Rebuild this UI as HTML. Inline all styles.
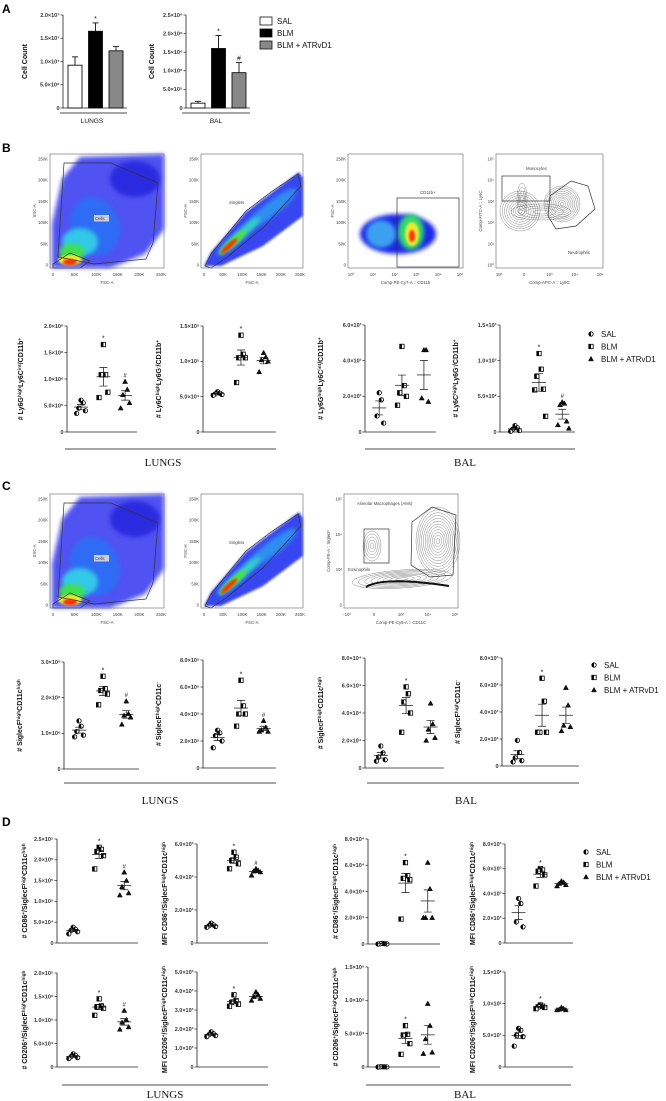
<!DOCTYPE html>
<html><head><meta charset="utf-8">
<style>
html,body{margin:0;padding:0;background:#fff;}
svg{display:block;font-family:"Liberation Sans",sans-serif;}
.tk{font-size:5.5px;font-weight:bold;fill:#333;}
.ttl{font-size:7px;font-weight:bold;fill:#111;}
.grp{font-family:"Liberation Serif",serif;font-size:11px;fill:#111;}
.pl{font-size:12px;font-weight:bold;fill:#000;}
.fl{font-size:4.3px;fill:#444;}
.lg{font-size:8px;fill:#111;}
</style></head>
<body>
<svg id="fig" width="666" height="1101" viewBox="0 0 666 1101">
<defs>
<filter id="blur2" x="-20%" y="-20%" width="140%" height="140%"><feGaussianBlur stdDeviation="2"/></filter>
<filter id="blur1" x="-20%" y="-20%" width="140%" height="140%"><feGaussianBlur stdDeviation="1"/></filter>
</defs>
<text class="pl" x="2" y="13">A</text>
<text class="pl" x="2" y="152">B</text>
<text class="pl" x="2" y="490">C</text>
<text class="pl" x="2" y="826">D</text>
</svg>
<script>
// ---------- DATA ----------
const groups = ["SAL","BLM","BLM + ATRvD1"];
// Panel A bar charts
const aLungMean = [0.92e7, 1.65e7, 1.23e7];
const aLungErr  = [0.18e7, 0.18e7, 0.09e7];
const aLungTicks = [0, 5e6, 1e7, 1.5e7, 2e7];
const aLungMarks = ["", "*", ""];
const aBalMean = [0.13e6, 1.6e6, 0.95e6];
const aBalErr  = [0.05e6, 0.35e6, 0.27e6];
const aBalTicks = [0, 5e5, 1e6, 1.5e6, 2e6, 2.5e6];
const aBalMarks = ["", "*", "#"];
// Panel B scatter
const b1Sal=[6.0e5,5.5e5,4.5e5,4.0e5,3.5e5], b1Blm=[1.65e6,1.08e6,1.08e6,0.75e6,0.65e6], b1Atr=[9.5e5,8.0e5,7.0e5,5.5e5,4.5e5];
const b1Ticks=[0,5e5,1e6,1.5e6,2e6]; const b1Marks=["","*","#"];
const b2Sal=[5.7e4,5.5e4,5.4e4,5.3e4,5.2e4], b2Blm=[1.37e5,1.1e5,1.05e5,1.05e5,0.7e5], b2Atr=[1.12e5,1.06e5,1.02e5,1.0e5,0.85e5];
const b2Ticks=[0,5e4,1e5,1.5e5]; const b2Marks=["","*",""];
const b3Sal=[2.2e3,1.8e3,0.9e3,0.5e3], b3Blm=[4.8e3,2.6e3,2.2e3,2.0e3,1.5e3], b3Atr=[4.6e3,4.6e3,1.9e3,1.7e3];
const b3Ticks=[0,2e3,4e3,6e3]; const b3Marks=["","",""];
const b4Sal=[90,60,40,20,10], b4Blm=[1100,880,780,600,590,220], b4Atr=[420,400,380,150,100,50];
const b4Ticks=[0,5e2,1e3,1.5e3]; const b4Marks=["","*","#"];
// Panel C scatter
const c1Sal=[1.35e6,1.2e6,1.05e6,0.95e6,0.9e6], c1Blm=[2.6e6,2.25e6,2.2e6,2.1e6,1.8e6], c1Atr=[1.9e6,1.55e6,1.5e6,1.45e6,1.25e6];
const c1Ticks=[0,1e6,2e6,3e6]; const c1Marks=["","*","#"];
const c2Sal=[2.8e5,2.6e5,2.4e5,2.0e5,1.5e5], c2Blm=[6.5e5,4.6e5,4.0e5,4.0e5,3.1e5], c2Atr=[3.5e5,3.0e5,2.8e5,2.7e5,2.7e5];
const c2Ticks=[0,2e5,4e5,6e5,8e5]; const c2Marks=["","*","#"];
const c3Sal=[1.6e4,1.1e4,0.8e4,0.6e4,0.5e4], c3Blm=[5.9e4,5.4e4,4.8e4,4.0e4,2.6e4], c3Atr=[4.7e4,3.2e4,2.8e4,2.2e4,2.0e4];
const c3Ticks=[0,2e4,4e4,6e4,8e4]; const c3Marks=["","*",""];
const c4Sal=[1.9e3,1.0e3,0.6e3,0.4e3,0.3e3], c4Blm=[6.5e3,4.8e3,2.5e3,2.5e3,2.5e3], c4Atr=[5.8e3,4.5e3,3.0e3,2.9e3,2.6e3];
const c4Ticks=[0,2e3,4e3,6e3,8e3]; const c4Marks=["","*",""];
// Panel D scatter
const d1Sal=[3.8e4,3.3e4,3.0e4,2.7e4,2.2e4], d1Blm=[2.3e5,2.25e5,2.2e5,2.1e5,1.78e5], d1Atr=[1.7e5,1.5e5,1.35e5,1.2e5,1.15e5];
const d1Ticks=[0,5e4,1e5,1.5e5,2e5,2.5e5]; const d1Marks=["","*","#"];
const d2Sal=[1.2e3,1.1e3,1.05e3,1.0e3,0.95e3], d2Blm=[5.5e3,5.2e3,5.0e3,4.8e3,4.5e3], d2Atr=[4.5e3,4.4e3,4.35e3,4.3e3,4.1e3];
const d2Ticks=[0,2e3,4e3,6e3]; const d2Marks=["","*","#"];
const d3Sal=[500,300,200,100,0], d3Blm=[6.2e4,5.2e4,5.0e4,4.9e4,1.9e4], d3Atr=[6.2e4,4.2e4,2.0e4,2.0e4,2.0e4];
const d3Ticks=[0,2e4,4e4,6e4,8e4]; const d3Marks=["","*",""];
const d4Sal=[3.6e3,3.2e3,1.7e3,1.3e3], d4Blm=[6.0e3,5.9e3,5.8e3,5.5e3,4.6e3], d4Atr=[5.0e3,4.9e3,4.8e3,4.7e3,4.6e3];
const d4Ticks=[0,2e3,4e3,6e3,8e3]; const d4Marks=["","*",""];
const d5Sal=[2.8e4,2.5e4,2.2e4,2.0e4,1.8e4], d5Blm=[1.45e5,1.3e5,1.28e5,1.25e5,1.1e5], d5Atr=[1.2e5,1.0e5,0.95e5,0.85e5,0.8e5];
const d5Ticks=[0,5e4,1e5,1.5e5,2e5]; const d5Marks=["","*","#"];
const d6Sal=[1.85e3,1.75e3,1.7e3,1.65e3,1.6e3], d6Blm=[3.8e3,3.5e3,3.4e3,3.3e3,3.2e3], d6Atr=[3.95e3,3.8e3,3.7e3,3.6e3,3.5e3];
const d6Ticks=[0,1e3,2e3,3e3,4e3,5e3]; const d6Marks=["","*",""];
const d7Sal=[400,300,200,100,0], d7Blm=[6.2e4,4.9e4,4.8e4,3.5e4,1.9e4], d7Atr=[9.5e4,6.2e4,4.2e4,2.2e4,2.0e4];
const d7Ticks=[0,5e4,1e5,1.5e5]; const d7Marks=["","*",""];
const d8Sal=[61,58,50,48,33], d8Blm=[98,96,95,94,92], d8Atr=[94,92,91,90,90];
const d8Ticks=[0,50,100,150]; const d8Marks=["","*",""];

// ---------- HELPERS ----------
const NS='http://www.w3.org/2000/svg';
const svg=document.getElementById('fig');
function mk(tag, attrs, parent){
  const e=document.createElementNS(NS,tag);
  for(const k in attrs) e.setAttribute(k,attrs[k]);
  (parent||svg).appendChild(e);
  return e;
}
const SUP={"0":"⁰","1":"¹","2":"²","3":"³","4":"⁴","5":"⁵","6":"⁶","7":"⁷","8":"⁸","9":"⁹","-":"⁻"};
function fmt(v){
  if(v===0) return "0";
  const e=Math.floor(Math.log10(v)+1e-9);
  const m=v/Math.pow(10,e);
  return m.toFixed(1)+"×10"+String(e).split("").map(c=>SUP[c]).join("");
}
function richText(t, str){
  const re=/\^\{([^}]*)\}/g; let last=0, m;
  while((m=re.exec(str))){
    if(m.index>last){const s=mk('tspan',{},t); s.textContent=str.slice(last,m.index);}
    const s=mk('tspan',{'baseline-shift':'super','font-size':'4.8px'},t); s.textContent=m[1];
    last=re.lastIndex;
  }
  if(last<str.length){const s=mk('tspan',{},t); s.textContent=str.slice(last);}
}
function yAxis(g, ax, top, zero, ticks, name){
  const ymax=ticks[ticks.length-1];
  const y=v=>zero-v/ymax*(zero-top);
  const a=mk('line',{x1:ax,x2:ax,y1:top,y2:zero,stroke:'#222','stroke-width':0.8},g);
  
  
  ticks.forEach(v=>{
    const tl=mk('line',{x1:ax-2.5,x2:ax,y1:y(v),y2:y(v),stroke:'#222','stroke-width':0.7},g);
    
    
    const t=mk('text',{x:ax-3.5,y:y(v)+1.8,'text-anchor':'end',class:'tk'},g);
    t.textContent=fmt(v);
    
    
  });
  return y;
}
function yTitle(g, x, cy, str, name){
  const t=mk('text',{x:x,y:cy,'text-anchor':'middle',class:'ttl',transform:'rotate(-90 '+x+' '+cy+')'},g);
  richText(t,str);
  
  
}
function marker(g, kind, x, y, name){
  let e;
  if(kind===0){
    e=mk('g',{},g);
    mk('circle',{cx:x,cy:y,r:2.2,fill:'#fff',stroke:'#000','stroke-width':0.8},e);
    mk('path',{d:`M${x},${y-2.2} A2.2,2.2 0 0 0 ${x},${y+2.2} Z`,fill:'#000'},e);
  } else if(kind===1){
    e=mk('g',{},g);
    mk('rect',{x:x-2.2,y:y-2.2,width:4.4,height:4.4,fill:'#fff',stroke:'#000','stroke-width':0.8},e);
    mk('rect',{x:x-2.2,y:y-2.2,width:2.2,height:4.4,fill:'#000'},e);
  } else {
    e=mk('path',{d:`M${x},${y-2.6} L${x+2.5},${y+1.9} L${x-2.5},${y+1.9} Z`,fill:'#111',stroke:'#000','stroke-width':0.5},g);
  }
  
  
}
function stats(arr){
  const n=arr.length, m=arr.reduce((a,b)=>a+b,0)/n;
  const sd=Math.sqrt(arr.reduce((a,b)=>a+(b-m)*(b-m),0)/(n-1));
  return [m, sd/Math.sqrt(n)];
}
function scatterChart(L, series, ticks, marks, title, name){
  const g=mk('g',{});
  
  
  const y=yAxis(g, L.ax, L.top, L.zero, ticks, name);
  const xa=mk('line',{x1:L.ax,x2:L.ex,y1:L.zero,y2:L.zero,stroke:'#222','stroke-width':0.8},g);
  
  
  yTitle(g, L.ax-L.tx, (L.top+L.zero)/2, title, name);
  const fr=[0.2,0.52,0.83];
  series.forEach((vals,gi)=>{
    const cx=L.ax+fr[gi]*(L.ex-L.ax);
    vals.forEach((v,i)=>{
      const dx=(i%2? 1:-1)*Math.ceil(i/2)*2.2;
      marker(g, gi, cx+dx, y(v), name+'-point-'+['sal','blm','atr'][gi]);
    });
    const [m,se]=stats(vals);
    const mean=mk('line',{x1:cx-7,x2:cx+7,y1:y(m),y2:y(m),stroke:'#111','stroke-width':0.7},g);
    
    
    const eb=mk('path',{d:`M${cx},${y(m+se)} V${y(m-se)} M${cx-4},${y(m+se)} H${cx+4} M${cx-4},${y(m-se)} H${cx+4}`,stroke:'#111','stroke-width':0.7,fill:'none'},g);
    
    
    if(marks[gi]){
      const mx=Math.max(...vals);
      const s=mk('text',{x:cx,y:y(mx)-4,'text-anchor':'middle','font-size':marks[gi]==='*'?'7px':'6px',fill:'#111'},g);
      s.textContent=marks[gi];
      
      
    }
  });
}
function barChart(L, means, errs, ticks, marks, name){
  const g=mk('g',{});
  
  
  const y=yAxis(g, L.ax, L.top, L.zero, ticks, name);
  const xa=mk('line',{x1:L.ax,x2:L.ex,y1:L.zero,y2:L.zero,stroke:'#222','stroke-width':0.8},g);
  
  
  yTitle(g, L.ax-L.tx, (L.top+L.zero)/2, 'Cell Count', name);
  const fills=['#fff','#000','#888'];
  means.forEach((m,i)=>{
    const x0=L.ax+5+i*20.5;
    const e=mk('line',{x1:x0+7,x2:x0+7,y1:y(m+errs[i]),y2:y(m),stroke:'#111','stroke-width':0.9},g);
    
    
    const c=mk('line',{x1:x0+4,x2:x0+10,y1:y(m+errs[i]),y2:y(m+errs[i]),stroke:'#111','stroke-width':0.9},g);
    
    
    const r=mk('rect',{x:x0,y:y(m),width:14,height:L.zero-y(m),fill:fills[i],stroke:'#111','stroke-width':0.9},g);
    
    
    if(marks[i]){
      const s=mk('text',{x:x0+7,y:y(m+errs[i])-2,'text-anchor':'middle','font-size':'7px',fill:'#111'},g);
      s.textContent=marks[i];
      
      
    }
  });
}
function groupLine(x1,x2,y,label,lx,ly,serif,name){
  const l=mk('line',{x1:x1,x2:x2,y1:y,y2:y,stroke:'#111','stroke-width':0.8});
  
  
  const t=mk('text',{x:lx,y:ly,'text-anchor':'middle',class:serif?'grp':'',  'font-size':serif?'11px':'6.5px',fill:'#111'});
  t.textContent=label;
  
  
}
function scatterLegend(x,y){
  const g=mk('g',{});
  
  
  groups.forEach((lab,i)=>{
    marker(g,i,x,y+i*12.5,'legend-marker');
    const t=mk('text',{x:x+10,y:y+i*12.5+3,class:'lg'},g);
    t.textContent=lab;
    
    
  });
}
// ---------- PANEL A ----------
barChart({ax:63,ex:127,top:15,zero:108,tx:36}, aLungMean, aLungErr, aLungTicks, aLungMarks, 'lungs-cell-count-chart');
barChart({ax:186,ex:250,top:15,zero:108,tx:32}, aBalMean, aBalErr, aBalTicks, aBalMarks, 'bal-cell-count-chart');
groupLine(60,127,113,'LUNGS',92,123,false,'a-lungs-group');
groupLine(182,250,113,'BAL',216,123,false,'a-bal-group');
(function(){
  const g=mk('g',{});
  
  
  const fills=['#fff','#000','#888'];
  groups.forEach((lab,i)=>{
    const r=mk('rect',{x:260,y:17+i*12,width:12,height:8,fill:fills[i],stroke:'#111','stroke-width':0.8},g);
    
    
    const t=mk('text',{x:277,y:24+i*12,class:'lg'},g);
    t.textContent=lab;
    
    
  });
})();
// ---------- FLOW PLOTS ----------
function frame(g,x,y,w,h,name,xl,yl,xt,yt){
  const r=mk('rect',{x:x,y:y,width:w,height:h,fill:'none',stroke:'#666','stroke-width':0.6},g);
  
  
  xt.forEach((s,i)=>{const t=mk('text',{x:x+3+i*(w-6)/(xt.length-1),y:y+h+8,'text-anchor':'middle',class:'fl'},g);t.textContent=s;
    
    });
  yt.forEach((s,i)=>{const t=mk('text',{x:x-2,y:y+h-3-i*(h-8)/(yt.length-1)+1.5,'text-anchor':'end',class:'fl'},g);t.textContent=s;
    
    });
  const a=mk('text',{x:x+w/2,y:y+h+16,'text-anchor':'middle',class:'fl'},g); a.textContent=xl;
  
  
  const b=mk('text',{x:x-14,y:y+h/2,'text-anchor':'middle',class:'fl',transform:`rotate(-90 ${x-14} ${y+h/2})`},g); b.textContent=yl;
  
  
}
function blob(g,x,y,cx,cy,rx,ry,rot,fill,f){
  mk('ellipse',{cx:x+cx,cy:y+cy,rx:rx,ry:ry,fill:fill,filter:'url(#'+(f||'blur2')+')',transform:`rotate(${rot||0} ${x+cx} ${y+cy})`},g);
}
function poly(g,x,y,pts,attrs){
  return mk('polygon',Object.assign({points:pts.map(p=>(x+p[0])+','+(y+p[1])).join(' ')},attrs),g);
}
function label(g,x,y,s,box,name){
  if(box) mk('rect',{x:x-1,y:y-5,width:s.length*2.6+2,height:6.5,fill:'#ccd'},g);
  const t=mk('text',{x:x,y:y,class:'fl',fill:'#222'},g); t.textContent=s;
  
  
}
const linT=['0','50K','100K','150K','200K','250K'];
function cellsPlot(x,y,name){
  const g=mk('g',{});  
  const w=114,h=114;
  poly(g,x,y,[[2,114],[2,70],[12,25],[30,3],[114,0],[114,75],[95,100],[60,114]],{fill:'#3036f0',opacity:0.85,filter:'url(#blur2)'});
  blob(g,x,y,85,25,25,18,0,'#2a2ae0');
  blob(g,x,y,45,72,24,30,-20,'#2f6cf5');
  blob(g,x,y,30,88,18,14,0,'#30c8e8');
  blob(g,x,y,22,98,13,8,0,'#40e050');
  blob(g,x,y,20,106,12,5,0,'#f0ee20','blur1');
  blob(g,x,y,20,108,7,3,0,'#ff2a00','blur1');
  poly(g,x,y,[[14,9],[61,9],[108,29],[103,89],[96,105],[44,110],[8,103]],{fill:'none',stroke:'#333','stroke-width':0.7});
  poly(g,x,y,[[3,110],[20,99],[40,107],[30,114],[3,114]],{fill:'none',stroke:'#333','stroke-width':0.7});
  label(g,x+45,y+66,'Cells',true,name+'-gate-label');
  frame(g,x,y,w,h,name,'FSC-A','SSC-A',linT,linT);
}
function singletsPlot(x,y,name){
  const g=mk('g',{});  
  const w=102,h=114;
  poly(g,x,y,[[3,112],[10,98],[45,58],[98,18],[102,24],[102,62],[62,92],[20,112]],{fill:'#2030f0',opacity:0.9,filter:'url(#blur1)'});
  blob(g,x,y,70,55,32,7,-38,'#2f8ff0');
  blob(g,x,y,38,82,28,5,-42,'#30d0c8');
  blob(g,x,y,32,88,18,3.5,-42,'#50e040','blur1');
  blob(g,x,y,28,92,11,2.5,-42,'#ff3000','blur1');
  poly(g,x,y,[[4,112],[10,100],[45,57],[70,38],[97,20],[100,32],[62,74],[25,104],[10,114]],{fill:'none',stroke:'#333','stroke-width':0.7});
  label(g,x+28,y+50,'Singlets',false,name+'-gate-label');
  frame(g,x,y,w,h,name,'FSC-A','FSC-H',linT,linT);
}
function cd11bPlot(x,y,name){
  const g=mk('g',{});  
  const w=115,h=114;
  blob(g,x,y,50,80,38,20,0,'#1e28e8');
  blob(g,x,y,33,80,15,14,0,'#3aa0f0');
  blob(g,x,y,63,78,13,18,0,'#30d870');
  blob(g,x,y,64,80,7,12,0,'#eaea30','blur1');
  blob(g,x,y,64,82,3,6,0,'#ff3000','blur1');
  const r=mk('rect',{x:x+49,y:y+44,width:62,height:69,fill:'none',stroke:'#333','stroke-width':0.7},g);
  
  
  label(g,x+72,y+40,'CD11b+',false,name+'-gate-label');
  frame(g,x,y,w,h,name,'Comp-PE-Cy7-A :: CD11b','FSC-A',['10⁰','10¹','10²','10³','10⁴','10⁵'],linT);
}
function contours(g,x,y,cx,cy,rx,ry,n,rot){
  for(let i=1;i<=n;i++){
    mk('ellipse',{cx:x+cx,cy:y+cy,rx:rx*i/n,ry:ry*i/n,fill:'none',stroke:'#555','stroke-width':0.45,opacity:0.75,transform:`rotate(${rot||0} ${x+cx} ${y+cy})`},g);
  }
}
function ly6Plot(x,y,name){
  const g=mk('g',{});  
  const w=107,h=114;
  contours(g,x,y,24,57,20,20,9);
  contours(g,x,y,26,45,5,16,4);
  contours(g,x,y,66,50,18,18,10);
  contours(g,x,y,45,58,30,8,4);
  const r=mk('rect',{x:x+6,y:y+22,width:48,height:25,fill:'none',stroke:'#333','stroke-width':0.7},g);
  
  
  poly(g,x,y,[[54,42],[75,27],[92,32],[99,55],[80,72],[60,75],[52,62]],{fill:'none',stroke:'#333','stroke-width':0.7});
  label(g,x+30,y+16,'Monocytes',false,name+'-monocytes-label');
  label(g,x+72,y+100,'Neutrophils',false,name+'-neutrophils-label');
  frame(g,x,y,w,h,name,'Comp-APC-A :: Ly6G','Comp-FITC-A :: Ly6C',['10²','0','10³','10⁴','10⁵'],['10⁰','10¹','10²','10³','10⁴','10⁵']);
}
function amPlot(x,y,name){
  const g=mk('g',{});  
  const w=114,h=114;
  contours(g,x,y,94,47,22,34,12);
  contours(g,x,y,28,52,9,15,5);
  contours(g,x,y,58,85,50,9,8,-4);
  mk('path',{d:`M${x+22},${y+93} Q${x+40},${y+82} ${x+105},${y+92}`,fill:'none',stroke:'#111','stroke-width':2},g);
  const r=mk('rect',{x:x+20,y:y+35,width:25,height:34,fill:'none',stroke:'#333','stroke-width':0.7},g);
  
  
  poly(g,x,y,[[68,28],[88,13],[112,21],[109,81],[86,83],[67,71]],{fill:'none',stroke:'#333','stroke-width':0.7});
  label(g,x+13,y+11,'Alveolar Macrophages (AMs)',false,name+'-am-label');
  label(g,x+4,y+77,'Eosinophils',false,name+'-eos-label');
  frame(g,x,y,w,h,name,'Comp-PE-Cy5-A :: CD11C','Comp-PE-A :: SiglecF',['-10³','0','10³','10⁴','10⁵'],['0','10³','10⁴','10⁵']);
}
cellsPlot(50,154,'b-cells-gate-plot');
singletsPlot(201,154,'b-singlets-plot');
cd11bPlot(348,154,'b-cd11b-plot');
ly6Plot(496,154,'b-ly6-plot');
cellsPlot(50,494,'c-cells-gate-plot');
singletsPlot(201,494,'c-singlets-plot');
amPlot(344,494,'c-siglecf-cd11c-plot');

// ---------- PANEL B SCATTER ----------
scatterChart({ax:67,ex:137,top:326,zero:432,tx:44},[b1Sal,b1Blm,b1Atr],b1Ticks,b1Marks,'# Ly6G^{high}Ly6C^{int}/CD11b^{+}','b-lungs-ly6g-chart');
scatterChart({ax:203,ex:276,top:326,zero:432,tx:42},[b2Sal,b2Blm,b2Atr],b2Ticks,b2Marks,'# Ly6C^{high}Ly6G^{-}/CD11b^{+}','b-lungs-ly6c-chart');
scatterChart({ax:365,ex:436,top:325,zero:432,tx:42},[b3Sal,b3Blm,b3Atr],b3Ticks,b3Marks,'# Ly6G^{high}Ly6C^{int}/CD11b^{+}','b-bal-ly6g-chart');
scatterChart({ax:500,ex:575,top:325,zero:432,tx:42},[b4Sal,b4Blm,b4Atr],b4Ticks,b4Marks,'# Ly6C^{high}Ly6G^{-}/CD11b^{+}','b-bal-ly6c-chart');
groupLine(65,276,449,'LUNGS',163,466,true,'b-lungs-group');
groupLine(365,575,449,'BAL',465,466,true,'b-bal-group');
scatterLegend(591,334);

// ---------- PANEL C SCATTER ----------
scatterChart({ax:64,ex:139,top:662,zero:769,tx:42},[c1Sal,c1Blm,c1Atr],c1Ticks,c1Marks,'# SiglecF^{high}CD11c^{high}','c-lungs-am-chart');
scatterChart({ax:203,ex:276,top:660,zero:768,tx:42},[c2Sal,c2Blm,c2Atr],c2Ticks,c2Marks,'# SiglecF^{high}CD11c^{-}','c-lungs-eos-chart');
scatterChart({ax:365,ex:444,top:658,zero:768,tx:42},[c3Sal,c3Blm,c3Atr],c3Ticks,c3Marks,'# SiglecF^{high}CD11c^{high}','c-bal-am-chart');
scatterChart({ax:502,ex:579,top:658,zero:766,tx:42},[c4Sal,c4Blm,c4Atr],c4Ticks,c4Marks,'# SiglecF^{high}CD11c^{-}','c-bal-eos-chart');
groupLine(64,276,783,'LUNGS',160,804,true,'c-lungs-group');
groupLine(367,579,783,'BAL',466,804,true,'c-bal-group');
scatterLegend(594,665);

// ---------- PANEL D SCATTER ----------
scatterChart({ax:57,ex:138,top:839,zero:943,tx:30},[d1Sal,d1Blm,d1Atr],d1Ticks,d1Marks,'# CD86^{+}/SiglecF^{high}CD11c^{high}','d-lungs-cd86-count-chart');
scatterChart({ax:197,ex:268,top:844,zero:943,tx:30},[d2Sal,d2Blm,d2Atr],d2Ticks,d2Marks,'MFI CD86^{+}/SiglecF^{high}CD11c^{high}','d-lungs-cd86-mfi-chart');
scatterChart({ax:368,ex:440,top:839,zero:944,tx:30},[d3Sal,d3Blm,d3Atr],d3Ticks,d3Marks,'# CD86^{+}/SiglecF^{high}CD11c^{high}','d-bal-cd86-count-chart');
scatterChart({ax:505,ex:573,top:844,zero:943,tx:30},[d4Sal,d4Blm,d4Atr],d4Ticks,d4Marks,'MFI CD86^{+}/SiglecF^{high}CD11c^{high}','d-bal-cd86-mfi-chart');
scatterChart({ax:57,ex:138,top:973,zero:1067,tx:30},[d5Sal,d5Blm,d5Atr],d5Ticks,d5Marks,'# CD206^{+}/SiglecF^{high}CD11c^{high}','d-lungs-cd206-count-chart');
scatterChart({ax:197,ex:268,top:972,zero:1067,tx:30},[d6Sal,d6Blm,d6Atr],d6Ticks,d6Marks,'MFI CD206^{+}/SiglecF^{high}CD11c^{high}','d-lungs-cd206-mfi-chart');
scatterChart({ax:368,ex:440,top:967,zero:1067,tx:30},[d7Sal,d7Blm,d7Atr],d7Ticks,d7Marks,'# CD206^{+}/SiglecF^{high}CD11c^{high}','d-bal-cd206-count-chart');
scatterChart({ax:505,ex:573,top:972,zero:1067,tx:30},[d8Sal,d8Blm,d8Atr],d8Ticks,d8Marks,'MFI CD206^{+}/SiglecF^{high}CD11c^{high}','d-bal-cd206-mfi-chart');
groupLine(62,268,1085,'LUNGS',165,1098,true,'d-lungs-group');
groupLine(366,571,1085,'BAL',465,1098,true,'d-bal-group');
scatterLegend(586,852);
</script>
</body></html>
